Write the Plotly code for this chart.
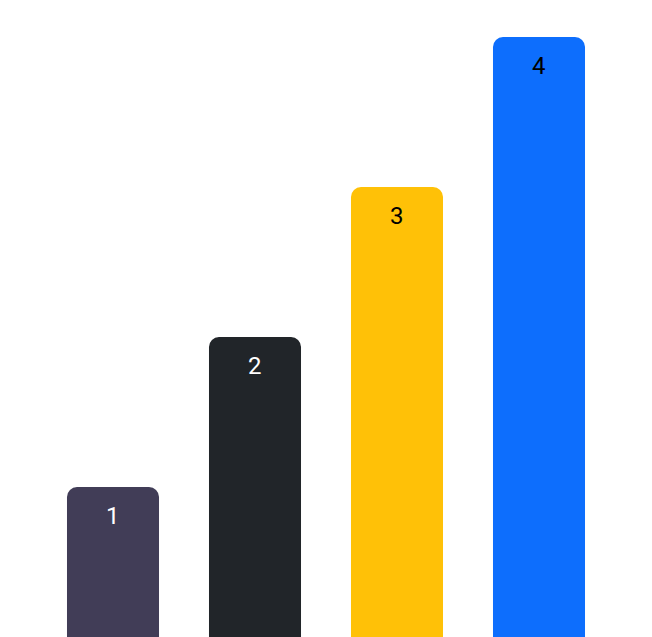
import plotly.graph_objects as go

categories = ["A", "B", "C", "D"]
values = [1, 2, 3, 4]
labels = ["1", "2", "3", "4"]
bar_colors = ["#413d57", "#212529", "#ffc107", "#0d6efd"]
text_colors = ["#ffffff", "#ffffff", "#000000", "#000000"]

fig = go.Figure()
fig.add_trace(go.Bar(
    x=categories, y=values,
    marker=dict(color=bar_colors, cornerradius=10, line=dict(width=0)),
    hoverinfo="skip",
))
for c, v, t, tc in zip(categories, values, labels, text_colors):
    fig.add_annotation(x=c, y=v, text=t, showarrow=False, yanchor="middle",
                       yshift=-29, font=dict(family="Roboto", size=24, color=tc))

fig.update_layout(
    width=652, height=637,
    margin=dict(l=42, r=42, t=37, b=0, pad=0),
    bargap=0.352,
    plot_bgcolor="white", paper_bgcolor="white",
    showlegend=False,
    xaxis=dict(visible=False),
    yaxis=dict(visible=False, range=[0, 4]),
)
fig.write_html("out.html", config={"displayModeBar": False},
               post_script="document.body.style.margin='0';document.body.style.overflow='hidden';")
